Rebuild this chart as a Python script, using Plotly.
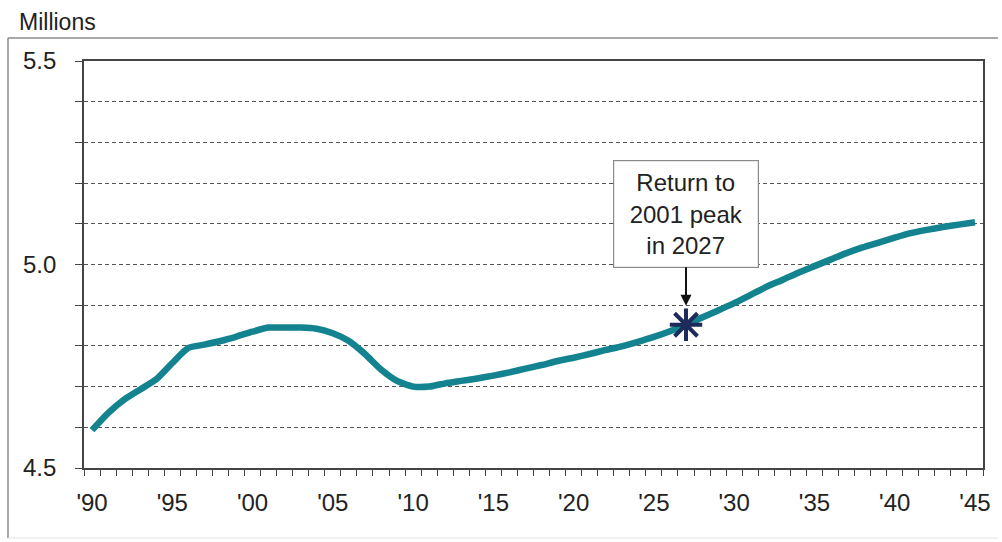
import plotly.graph_objects as go

# Population (millions), 1990-2045 (history and projection)
years = list(range(1990, 2046))
population = [
    4.593, 4.635, 4.668, 4.693, 4.718, 4.758, 4.795, 4.803, 4.812, 4.823,
    4.835, 4.845, 4.845, 4.845, 4.842, 4.831, 4.812, 4.780, 4.742, 4.714,
    4.700, 4.700, 4.708, 4.714, 4.720, 4.727, 4.735, 4.744, 4.753, 4.763,
    4.771, 4.780, 4.790, 4.799, 4.810, 4.822, 4.836, 4.852, 4.870, 4.887,
    4.905, 4.925, 4.945, 4.962, 4.980, 4.996, 5.012, 5.028, 5.042, 5.054,
    5.066, 5.077, 5.085, 5.092, 5.098, 5.104,
]

label_years = list(range(1990, 2046, 5))
label_text = ["'90", "'95", "'00", "'05", "'10", "'15", "'20", "'25", "'30", "'35", "'40", "'45"]
y_ticks = [4.5, 5.0, 5.5]
y_tick_text = ["4.5", "5.0", "5.5"]

return_year = 2027
return_value = population[years.index(return_year)]
callout = "Return to<br>2001 peak<br>in 2027"

FONT = "Liberation Sans, Arial, sans-serif"
LINE_COLOR = "#13838f"
STAR_COLOR = "#1c2b5a"
GRID_COLOR = "#555555"

# plot area in pixels (used to place paper-referenced items)
PW, PH = 899, 407

fig = go.Figure()

fig.add_trace(go.Scatter(
    x=years, y=population, mode="lines",
    line=dict(color=LINE_COLOR, width=6.5, shape="spline", smoothing=0.6),
    hoverinfo="skip", showlegend=False,
))

fig.add_trace(go.Scatter(
    x=[return_year], y=[return_value], mode="markers",
    marker=dict(symbol="asterisk-open", size=27, color=STAR_COLOR,
                line=dict(color=STAR_COLOR, width=4)),
    hoverinfo="skip", showlegend=False,
))

# Callout box with arrow down to the star
fig.add_annotation(
    x=return_year, y=return_value, xref="x", yref="y",
    text=callout, showarrow=True, arrowhead=2, arrowsize=1.1, arrowwidth=2,
    arrowcolor="#111111", ax=0, ay=-111, standoff=19,
    font=dict(family=FONT, size=24, color="#222222"),
    align="center", bgcolor="white", bordercolor="#8a8a8a", borderwidth=1.2,
    width=142, height=104, borderpad=1,
)

# Units label above the frame
fig.add_annotation(
    x=(17 - 84) / PW, y=(468 - 22) / PH, xref="paper", yref="paper",
    text="Millions", showarrow=False, xanchor="left", yanchor="middle",
    font=dict(family=FONT, size=23, color="#222222"),
)

fig.update_layout(
    width=1002, height=542,
    margin=dict(l=84, r=19, t=61, b=74),
    paper_bgcolor="white", plot_bgcolor="white",
    font=dict(family=FONT, size=24, color="#222222"),
    xaxis=dict(
        range=[1989.5, 2045.5],
        tickmode="array", tickvals=label_years, ticktext=label_text,
        ticks="outside", ticklen=0, tickcolor="#444444",
        ticklabelstandoff=12,
        showgrid=False, zeroline=False,
        showline=True, linecolor="#444444", linewidth=1.6, mirror=True,
        minor=dict(tickmode="array",
                   tickvals=[y - 0.5 for y in years] + [2045.5],
                   ticks="outside", ticklen=6, tickwidth=1.3,
                   tickcolor="#444444", showgrid=False),
        tickfont=dict(family=FONT, size=24, color="#222222"),
    ),
    yaxis=dict(
        range=[4.5, 5.5],
        tickmode="array", tickvals=y_ticks, ticktext=y_tick_text,
        ticks="outside", ticklen=7, tickwidth=1.3, tickcolor="#444444",
        ticklabelstandoff=14,
        showgrid=True, gridcolor=GRID_COLOR, gridwidth=1, griddash="4px,3px",
        zeroline=False,
        showline=True, linecolor="#444444", linewidth=1.6, mirror=True,
        minor=dict(dtick=0.1, tick0=4.5, ticks="outside", ticklen=7,
                   tickwidth=1.3, tickcolor="#444444",
                   showgrid=True, gridcolor=GRID_COLOR, gridwidth=1,
                   griddash="4px,3px"),
        tickfont=dict(family=FONT, size=24, color="#222222"),
    ),
    shapes=[
        # outer frame around the chart
        dict(type="line", xref="paper", yref="paper",
             x0=-76 / PW, x1=1.0 + 15 / PW, y0=1 + 23 / PH, y1=1 + 23 / PH,
             line=dict(color="#8c8c8c", width=1.5)),
        dict(type="line", xref="paper", yref="paper",
             x0=-76 / PW, x1=-76 / PW, y0=1 + 23 / PH, y1=-70 / PH,
             line=dict(color="#8c8c8c", width=1.5)),
        dict(type="line", xref="paper", yref="paper",
             x0=-76 / PW, x1=1.0 + 15 / PW, y0=-70 / PH, y1=-70 / PH,
             line=dict(color="#e4e4e4", width=1.2)),
    ],
)

fig.write_html("out.html")
